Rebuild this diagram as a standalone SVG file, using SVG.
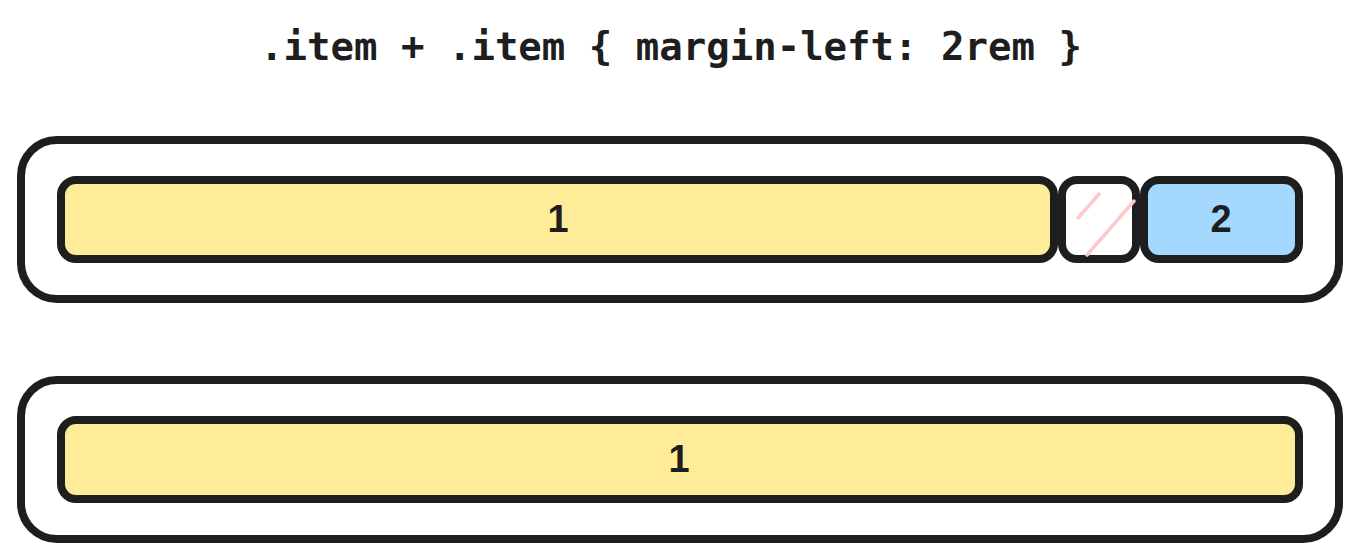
<svg xmlns="http://www.w3.org/2000/svg" width="1360" height="560" viewBox="0 0 1360 560">
<style>
.box{fill:none;stroke:#1e1e1e;stroke-width:8}
.item{stroke:#1e1e1e;stroke-width:8}
.yellow{fill:#ffec99}
.blue{fill:#a5d8ff}
.gap{fill:#ffffff}
.hatch{stroke:#ffc9c9;stroke-width:3.5;stroke-linecap:round;fill:none}
.lbl{font-family:"Liberation Sans",Arial,sans-serif;font-size:38px;font-weight:bold;fill:#1e1e1e;text-anchor:middle}
.title{font-family:"DejaVu Sans Mono","Liberation Mono",monospace;font-size:39px;font-weight:bold;fill:#1e1e1e;text-anchor:middle}
</style>
<rect width="1360" height="560" fill="#ffffff"/>
<g id="title"><text class="title" x="671" y="60">.item + .item { margin-left: 2rem }</text></g>
<g id="container1"><rect class="box" x="21" y="140" width="1318" height="159" rx="36"/></g>
<g id="item1a">
<rect class="item yellow" x="61" y="180" width="993" height="79" rx="15"/>
<text class="lbl" x="558" y="232">1</text>
</g>
<g id="margin">
<rect class="item gap" x="1062" y="180" width="74" height="79" rx="15"/>
<path class="hatch" d="M1078 218 L1099 194 M1087 255 L1134 201"/>
</g>
<g id="item2">
<rect class="item blue" x="1144" y="180" width="155" height="79" rx="15"/>
<text class="lbl" x="1221" y="232">2</text>
</g>
<g id="container2"><rect class="box" x="21" y="380" width="1318" height="159" rx="36"/></g>
<g id="item1b">
<rect class="item yellow" x="61" y="420" width="1238" height="79" rx="15"/>
<text class="lbl" x="679" y="472">1</text>
</g>
<g id="connectors"/>
</svg>
